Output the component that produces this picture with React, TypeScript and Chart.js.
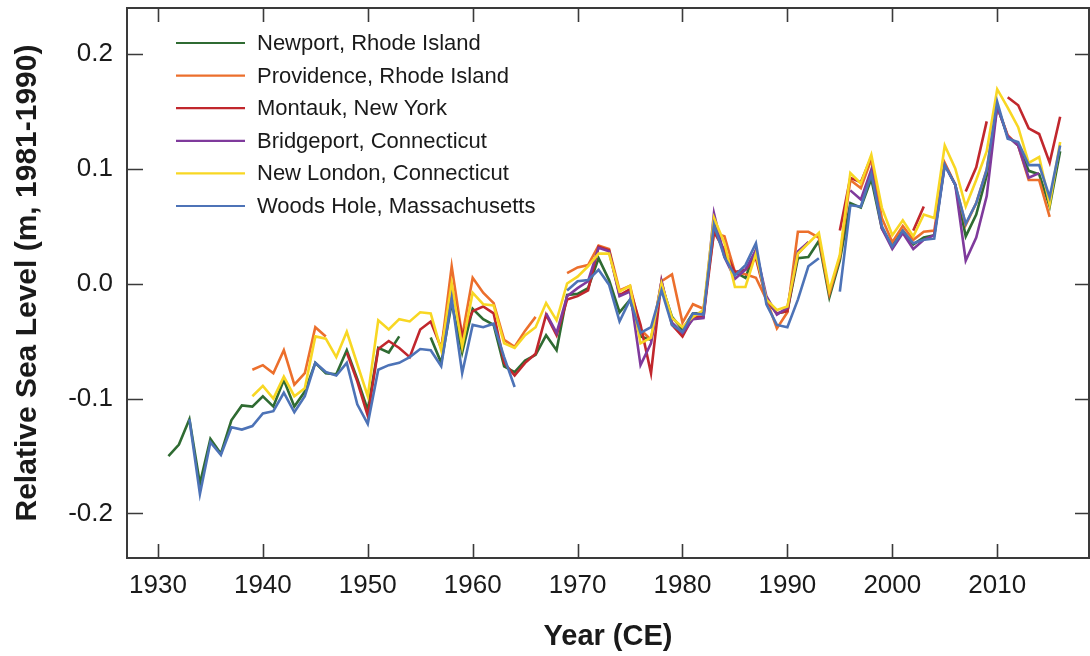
import React, { useEffect, useRef } from "react";
import { Chart, registerables } from "chart.js";

Chart.register(...registerables);

const years = [
  1931, 1932, 1933, 1934, 1935, 1936, 1937, 1938, 1939, 1940,
  1941, 1942, 1943, 1944, 1945, 1946, 1947, 1948, 1949, 1950,
  1951, 1952, 1953, 1954, 1955, 1956, 1957, 1958, 1959, 1960,
  1961, 1962, 1963, 1964, 1965, 1966, 1967, 1968, 1969, 1970,
  1971, 1972, 1973, 1974, 1975, 1976, 1977, 1978, 1979, 1980,
  1981, 1982, 1983, 1984, 1985, 1986, 1987, 1988, 1989, 1990,
  1991, 1992, 1993, 1994, 1995, 1996, 1997, 1998, 1999, 2000,
  2001, 2002, 2003, 2004, 2005, 2006, 2007, 2008, 2009, 2010,
  2011, 2012, 2013, 2014, 2015, 2016,
];

const newport = [
  -0.150, -0.140, -0.118, -0.174, -0.135, -0.148, -0.119, -0.106, -0.107, -0.098,
  -0.107, -0.084, -0.107, -0.094, -0.069, -0.078, -0.079, -0.058, -0.083, -0.110,
  -0.056, -0.060, -0.046, null, null, -0.047, -0.069, -0.017, -0.060, -0.022,
  -0.031, -0.036, -0.072, -0.077, -0.067, -0.062, -0.045, -0.058, -0.010, -0.009,
  -0.004, 0.022, 0.003, -0.025, -0.014, -0.046, -0.049, -0.001, -0.029, -0.040,
  -0.026, -0.026, 0.052, 0.025, 0.010, 0.005, 0.029, -0.015, -0.026, -0.024,
  0.022, 0.023, 0.037, -0.012, 0.020, 0.070, 0.066, 0.091, 0.048, 0.033,
  0.046, 0.034, 0.040, 0.042, 0.104, 0.086, 0.041, 0.060, 0.094, 0.154,
  0.128, 0.120, 0.098, 0.095, 0.067, 0.115,
];

const providence = [
  null, null, null, null, null, null, null, null, -0.075, -0.071,
  -0.078, -0.058, -0.088, -0.078, -0.038, -0.046, null, null, null, null,
  null, null, null, null, null, null, -0.058, 0.015, -0.046, 0.005,
  -0.008, -0.017, -0.049, -0.055, -0.041, -0.029, null, null, 0.009, 0.014,
  0.016, 0.033, 0.030, -0.006, -0.002, -0.040, -0.049, 0.002, 0.008, -0.034,
  -0.018, -0.022, 0.044, 0.041, 0.010, 0.008, 0.005, -0.014, -0.039, -0.025,
  0.045, 0.045, 0.040, -0.009, 0.023, 0.090, 0.083, 0.108, 0.057, 0.036,
  0.050, 0.038, 0.045, 0.046, 0.105, 0.086, 0.051, 0.070, 0.099, 0.154,
  0.129, 0.120, 0.090, 0.090, 0.058, null,
];

const montauk = [
  null, null, null, null, null, null, null, null, null, null,
  null, null, null, null, null, null, null, -0.060, -0.085, -0.115,
  -0.057, -0.050, -0.056, -0.064, -0.040, -0.033, -0.056, -0.003, -0.045, -0.024,
  -0.020, -0.026, -0.069, -0.080, -0.069, -0.061, -0.027, -0.045, -0.014, -0.011,
  -0.006, 0.032, 0.029, -0.010, -0.005, -0.036, -0.078, 0.002, -0.036, -0.046,
  -0.029, -0.029, 0.045, 0.029, 0.010, 0.012, 0.022, -0.014, -0.026, -0.024,
  0.026, 0.036, null, null, 0.046, 0.092, 0.088, 0.110, null, null,
  null, 0.046, 0.067, null, null, null, 0.080, 0.101, 0.141, null,
  0.162, 0.155, 0.135, 0.130, 0.105, 0.145,
];

const bridgeport = [
  null, null, null, null, null, null, null, null, null, null,
  null, null, null, null, null, null, null, null, null, null,
  null, null, null, null, null, null, null, null, null, null,
  null, null, null, null, null, null, -0.026, -0.043, -0.011, -0.004,
  0.002, 0.031, 0.028, -0.011, -0.007, -0.071, -0.052, 0.002, -0.034, -0.043,
  -0.031, -0.030, 0.061, 0.023, 0.004, 0.012, 0.029, -0.011, -0.027, -0.021,
  0.028, 0.036, null, null, null, 0.081, 0.073, 0.099, 0.048, 0.030,
  0.044, 0.030, 0.038, 0.042, 0.103, 0.086, 0.020, 0.040, 0.076, 0.154,
  0.128, 0.120, 0.092, 0.096, null, null,
];

const newLondon = [
  null, null, null, null, null, null, null, null, -0.098, -0.089,
  -0.100, -0.081, -0.098, -0.091, -0.046, -0.048, -0.064, -0.042, -0.070, -0.098,
  -0.032, -0.040, -0.031, -0.033, -0.025, -0.026, -0.058, 0.000, -0.055, -0.008,
  -0.018, -0.019, -0.052, -0.056, -0.045, -0.038, -0.017, -0.032, 0.000, 0.006,
  0.015, 0.026, 0.026, -0.007, -0.002, -0.052, -0.047, 0.000, -0.030, -0.038,
  -0.029, -0.023, 0.057, 0.035, -0.003, -0.003, 0.026, -0.014, -0.023, -0.020,
  0.026, 0.035, 0.044, -0.006, 0.025, 0.096, 0.087, 0.112, 0.066, 0.042,
  0.055, 0.041, 0.060, 0.057, 0.120, 0.100, 0.067, 0.090, 0.115, 0.169,
  0.153, 0.136, 0.105, 0.110, 0.069, 0.123,
];

const woodsHole = [
  null, null, -0.118, -0.183, -0.138, -0.149, -0.125, -0.127, -0.124, -0.113,
  -0.111, -0.095, -0.112, -0.098, -0.069, -0.077, -0.080, -0.069, -0.105, -0.122,
  -0.075, -0.071, -0.069, -0.064, -0.057, -0.058, -0.072, -0.013, -0.078, -0.036,
  -0.038, -0.035, -0.064, -0.090, null, null, null, null, -0.006, 0.002,
  0.003, 0.012, -0.001, -0.033, -0.014, -0.043, -0.038, -0.006, -0.036, -0.042,
  -0.026, -0.027, 0.051, 0.023, 0.007, 0.016, 0.035, -0.018, -0.036, -0.038,
  -0.014, 0.015, 0.022, null, -0.007, 0.068, 0.067, 0.095, 0.050, 0.032,
  0.046, 0.035, 0.038, 0.039, 0.103, 0.086, 0.052, 0.070, 0.099, 0.158,
  0.126, 0.123, 0.103, 0.103, 0.075, 0.120,
];

const seriesNames = [
  "Newport, Rhode Island",
  "Providence, Rhode Island",
  "Montauk, New York",
  "Bridgeport, Connecticut",
  "New London, Connecticut",
  "Woods Hole, Massachusetts",
];
const seriesColors = ["#2f6b32", "#ec6f2c", "#c1272d", "#7f3a9c", "#f8d723", "#4d73b7"];
const xTicks = [1930, 1940, 1950, 1960, 1970, 1980, 1990, 2000, 2010];
const yTicks = [-0.2, -0.1, 0.0, 0.1, 0.2];
const yTickLabels = ["-0.2", "-0.1", "0.0", "0.1", "0.2"];

const FAMILY = "'Liberation Sans', Arial, sans-serif";

const framePlugin = {
  id: "frameAndLegend",
  afterDraw(chart: any) {
    const { ctx, chartArea: a, scales } = chart;
    ctx.save();
    ctx.strokeStyle = "#3a3a3a";
    ctx.lineWidth = 2;
    ctx.strokeRect(a.left, a.top, a.right - a.left, a.bottom - a.top);
    const tl = 14;
    ctx.beginPath();
    scales.x.ticks.forEach((t: any) => {
      const px = Math.round(scales.x.getPixelForValue(t.value)) + 0.5;
      ctx.moveTo(px, a.bottom);
      ctx.lineTo(px, a.bottom - tl);
      ctx.moveTo(px, a.top);
      ctx.lineTo(px, a.top + tl);
    });
    scales.y.ticks.forEach((t: any) => {
      const py = Math.round(scales.y.getPixelForValue(t.value)) + 0.5;
      ctx.moveTo(a.left, py);
      ctx.lineTo(a.left + tl + 2, py);
      ctx.moveTo(a.right, py);
      ctx.lineTo(a.right - tl, py);
    });
    ctx.lineWidth = 1.6;
    ctx.stroke();

    // legend inside plot area
    const ds = chart.data.datasets;
    ctx.font = `22px ${FAMILY}`;
    ctx.textBaseline = "middle";
    ctx.textAlign = "left";
    ds.forEach((d: any, i: number) => {
      const y = a.top + 35 + i * 32.6;
      ctx.strokeStyle = d.borderColor;
      ctx.lineWidth = 2.2;
      ctx.beginPath();
      ctx.moveTo(a.left + 49, y);
      ctx.lineTo(a.left + 118, y);
      ctx.stroke();
      ctx.fillStyle = "#1a1a1a";
      ctx.fillText(d.label, a.left + 130, y + 1);
    });
    ctx.restore();
  },
};

export default function App() {
  const ref = useRef<HTMLCanvasElement | null>(null);

  useEffect(() => {
    const canvas = ref.current;
    if (!canvas) return;
    const allSeries = [newport, providence, montauk, bridgeport, newLondon, woodsHole];
    const drawOrder = [5, 4, 3, 2, 1, 0];
    const datasets = allSeries.map((s, k) => ({
      label: seriesNames[k],
      data: years.map((yr, i) => ({ x: yr, y: s[i] })),
      borderColor: seriesColors[k],
      backgroundColor: seriesColors[k],
      borderWidth: 2.6,
      pointRadius: 0,
      tension: 0,
      spanGaps: false,
      order: drawOrder[k],
    }));

    const chart = new Chart(canvas, {
      type: "line",
      data: { datasets },
      plugins: [framePlugin],
      options: {
        animation: false,
        responsive: false,
        maintainAspectRatio: false,
        events: [],
        layout: { padding: { top: 8, right: 1, left: 0, bottom: 0 } },
        plugins: {
          legend: { display: false },
          tooltip: { enabled: false },
        },
        scales: {
          x: {
            type: "linear",
            min: 1927.05,
            max: 2018.75,
            grid: { display: false, drawTicks: false },
            border: { display: false },
            afterBuildTicks: (scale: any) => {
              scale.ticks = xTicks.map((v) => ({ value: v }));
            },
            afterFit: (scale: any) => {
              scale.height = 98;
              scale.paddingLeft = 0;
              scale.paddingRight = 0;
            },
            ticks: {
              padding: 12,
              color: "#1a1a1a",
              font: { family: FAMILY, size: 26, lineHeight: 1.2 },
              maxRotation: 0,
              autoSkip: false,
              callback: (v: any) => String(v),
            },
            title: {
              display: true,
              text: "Year (CE)",
              color: "#1a1a1a",
              font: { family: FAMILY, size: 29, weight: "bold", lineHeight: 1.2 },
              padding: { top: 0, bottom: 2 },
            },
          },
          y: {
            type: "linear",
            min: -0.2387,
            max: 0.2396,
            grid: { display: false, drawTicks: false },
            border: { display: false },
            afterBuildTicks: (scale: any) => {
              scale.ticks = yTicks.map((v) => ({ value: v }));
            },
            afterFit: (scale: any) => {
              scale.width = 127;
              scale.paddingTop = 0;
              scale.paddingBottom = 0;
            },
            ticks: {
              padding: 14,
              color: "#1a1a1a",
              font: { family: FAMILY, size: 26, lineHeight: 1.2 },
              autoSkip: false,
              callback: (v: any) => {
                const idx = yTicks.findIndex((t) => Math.abs(t - v) < 1e-9);
                return idx >= 0 ? yTickLabels[idx] : "";
              },
            },
            title: {
              display: true,
              text: "Relative Sea Level (m, 1981-1990)",
              color: "#1a1a1a",
              font: { family: FAMILY, size: 30, weight: "bold", lineHeight: 1.2 },
              padding: { top: 10, bottom: 0 },
            },
          },
        },
      },
    } as any);

    return () => chart.destroy();
  }, []);

  return (
    <div style={{ position: "absolute", left: 0, top: 0, width: 1090, height: 656, background: "#fff" }}>
      <canvas ref={ref} width={1090} height={656} style={{ display: "block", width: 1090, height: 656 }} />
    </div>
  );
}
